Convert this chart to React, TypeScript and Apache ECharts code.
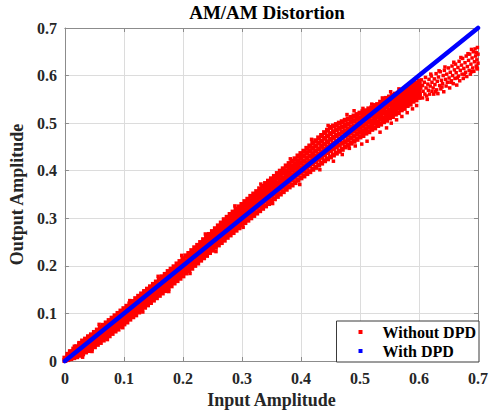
import React, { useEffect, useRef } from "react";
import * as echarts from "echarts";

const tickValues = [0, 0.1, 0.2, 0.3, 0.4, 0.5, 0.6, 0.7];
const tickLabels = ["0", "0.1", "0.2", "0.3", "0.4", "0.5", "0.6", "0.7"];

// Without DPD — dense band, columns: [x, y1, y2, ...]
const redColsLow: number[][] = [
  [0.000, 0.001, 0.006],
  [0.005, 0.003, 0.009, 0.014],
  [0.010, 0.005, 0.012, 0.019],
  [0.015, 0.007, 0.014, 0.020, 0.025],
  [0.020, 0.009, 0.016, 0.023, 0.030],
  [0.025, 0.012, 0.019, 0.026, 0.034, 0.037],
  [0.030, 0.015, 0.022, 0.029, 0.036, 0.042],
  [0.035, 0.019, 0.026, 0.033, 0.040, 0.046],
  [0.040, 0.022, 0.030, 0.037, 0.044, 0.051],
  [0.045, 0.026, 0.034, 0.041, 0.048, 0.055],
  [0.050, 0.030, 0.038, 0.045, 0.053, 0.060],
  [0.055, 0.035, 0.042, 0.050, 0.058, 0.065],
  [0.060, 0.039, 0.047, 0.055, 0.063, 0.070],
  [0.065, 0.044, 0.052, 0.060, 0.068, 0.075],
  [0.070, 0.048, 0.056, 0.064, 0.072, 0.080],
  [0.075, 0.053, 0.061, 0.069, 0.077, 0.085],
  [0.080, 0.058, 0.066, 0.074, 0.082, 0.090],
  [0.085, 0.063, 0.071, 0.079, 0.087, 0.095],
  [0.090, 0.067, 0.075, 0.084, 0.092, 0.100],
  [0.095, 0.073, 0.081, 0.089, 0.097, 0.105],
  [0.100, 0.078, 0.086, 0.094, 0.102, 0.110],
  [0.105, 0.082, 0.091, 0.099, 0.107, 0.115],
  [0.110, 0.088, 0.096, 0.104, 0.112, 0.120],
  [0.115, 0.093, 0.101, 0.109, 0.117, 0.125],
  [0.120, 0.097, 0.106, 0.114, 0.122, 0.131],
  [0.125, 0.103, 0.111, 0.119, 0.127, 0.136],
  [0.130, 0.108, 0.116, 0.124, 0.132, 0.141],
  [0.135, 0.113, 0.121, 0.129, 0.137, 0.146],
  [0.140, 0.118, 0.126, 0.134, 0.142, 0.151],
  [0.145, 0.123, 0.131, 0.139, 0.147, 0.156],
  [0.150, 0.128, 0.136, 0.144, 0.152, 0.161],
  [0.155, 0.133, 0.141, 0.149, 0.157, 0.166],
  [0.160, 0.138, 0.146, 0.154, 0.162, 0.172],
  [0.165, 0.143, 0.151, 0.159, 0.167, 0.177],
  [0.170, 0.148, 0.156, 0.164, 0.173, 0.182],
  [0.175, 0.153, 0.161, 0.169, 0.178, 0.188],
  [0.180, 0.158, 0.166, 0.175, 0.184, 0.193],
  [0.185, 0.164, 0.172, 0.180, 0.189, 0.198],
  [0.190, 0.169, 0.177, 0.186, 0.195, 0.204],
  [0.195, 0.174, 0.182, 0.191, 0.200, 0.209],
  [0.200, 0.179, 0.188, 0.197, 0.206, 0.215],
  [0.205, 0.185, 0.193, 0.202, 0.211, 0.221],
  [0.210, 0.190, 0.198, 0.207, 0.217, 0.226],
  [0.215, 0.195, 0.204, 0.213, 0.222, 0.232],
  [0.220, 0.201, 0.209, 0.219, 0.228, 0.238],
  [0.225, 0.206, 0.215, 0.224, 0.234, 0.243],
  [0.230, 0.212, 0.221, 0.230, 0.239, 0.249],
  [0.235, 0.217, 0.226, 0.235, 0.245, 0.255],
  [0.240, 0.222, 0.231, 0.239, 0.247, 0.254, 0.261],
  [0.245, 0.228, 0.236, 0.244, 0.252, 0.259, 0.266],
  [0.250, 0.233, 0.242, 0.250, 0.258, 0.265, 0.272],
];

const redColsMid: number[][] = [
  [0.255, 0.239, 0.247, 0.255, 0.263, 0.271, 0.278],
  [0.260, 0.244, 0.252, 0.261, 0.269, 0.277, 0.284],
  [0.265, 0.249, 0.258, 0.267, 0.275, 0.283, 0.290],
  [0.270, 0.254, 0.263, 0.272, 0.280, 0.289, 0.297],
  [0.275, 0.260, 0.269, 0.278, 0.286, 0.294, 0.302],
  [0.280, 0.265, 0.274, 0.283, 0.291, 0.300, 0.308],
  [0.285, 0.270, 0.279, 0.288, 0.296, 0.305, 0.313],
  [0.290, 0.275, 0.284, 0.293, 0.302, 0.310, 0.319],
  [0.295, 0.280, 0.289, 0.298, 0.307, 0.315, 0.324],
  [0.300, 0.286, 0.295, 0.304, 0.312, 0.321, 0.329],
  [0.305, 0.291, 0.300, 0.310, 0.318, 0.327, 0.335],
  [0.310, 0.296, 0.305, 0.315, 0.323, 0.332, 0.340],
  [0.315, 0.301, 0.310, 0.320, 0.328, 0.337, 0.346],
  [0.320, 0.306, 0.316, 0.325, 0.334, 0.342, 0.351],
  [0.325, 0.311, 0.321, 0.330, 0.339, 0.348, 0.356],
  [0.330, 0.316, 0.326, 0.335, 0.344, 0.353, 0.362],
  [0.335, 0.321, 0.331, 0.340, 0.349, 0.358, 0.367],
  [0.340, 0.326, 0.336, 0.346, 0.355, 0.364, 0.373],
  [0.345, 0.331, 0.341, 0.351, 0.360, 0.369, 0.378],
  [0.350, 0.336, 0.346, 0.356, 0.365, 0.374, 0.383],
  [0.355, 0.341, 0.351, 0.361, 0.370, 0.379, 0.388],
  [0.360, 0.346, 0.356, 0.366, 0.375, 0.385, 0.394],
  [0.365, 0.351, 0.361, 0.371, 0.380, 0.390, 0.399],
  [0.370, 0.356, 0.366, 0.376, 0.385, 0.395, 0.404],
  [0.375, 0.361, 0.371, 0.381, 0.390, 0.400, 0.410],
  [0.380, 0.366, 0.376, 0.386, 0.396, 0.405, 0.415],
  [0.385, 0.370, 0.381, 0.391, 0.401, 0.410, 0.420],
  [0.390, 0.375, 0.386, 0.396, 0.406, 0.415, 0.425],
  [0.395, 0.380, 0.391, 0.401, 0.411, 0.421, 0.431],
  [0.400, 0.385, 0.396, 0.406, 0.416, 0.426, 0.436],
  [0.405, 0.389, 0.400, 0.410, 0.420, 0.431, 0.441],
  [0.410, 0.394, 0.405, 0.416, 0.426, 0.437, 0.447],
  [0.415, 0.398, 0.410, 0.420, 0.431, 0.442, 0.452],
  [0.420, 0.403, 0.415, 0.426, 0.436, 0.447, 0.458],
  [0.425, 0.407, 0.419, 0.430, 0.441, 0.452, 0.463],
  [0.430, 0.412, 0.424, 0.435, 0.446, 0.458, 0.469],
  [0.435, 0.416, 0.428, 0.440, 0.451, 0.462, 0.474],
  [0.440, 0.421, 0.433, 0.445, 0.456, 0.468, 0.480],
  [0.445, 0.425, 0.438, 0.450, 0.461, 0.473, 0.485],
  [0.450, 0.429, 0.442, 0.454, 0.466, 0.478, 0.491],
  [0.455, 0.433, 0.446, 0.458, 0.470, 0.482, 0.494],
  [0.460, 0.437, 0.450, 0.462, 0.474, 0.486, 0.497],
  [0.465, 0.441, 0.454, 0.466, 0.477, 0.489, 0.500],
  [0.470, 0.445, 0.458, 0.469, 0.481, 0.492, 0.503],
  [0.475, 0.450, 0.461, 0.473, 0.484, 0.495, 0.506],
  [0.480, 0.454, 0.465, 0.476, 0.487, 0.498, 0.509],
  [0.485, 0.458, 0.469, 0.480, 0.491, 0.502, 0.512],
  [0.490, 0.462, 0.473, 0.484, 0.494, 0.505, 0.515],
  [0.495, 0.466, 0.477, 0.487, 0.498, 0.508, 0.518],
  [0.500, 0.471, 0.481, 0.491, 0.501, 0.511, 0.521],
];

const redColsHigh: number[][] = [
  [0.505, 0.474, 0.484, 0.494, 0.504, 0.514, 0.524],
  [0.510, 0.479, 0.488, 0.498, 0.508, 0.518, 0.526],
  [0.515, 0.482, 0.492, 0.502, 0.511, 0.521, 0.530],
  [0.520, 0.487, 0.496, 0.505, 0.515, 0.524, 0.532],
  [0.525, 0.490, 0.500, 0.509, 0.518, 0.528, 0.537],
  [0.530, 0.495, 0.503, 0.513, 0.522, 0.531, 0.539],
  [0.535, 0.498, 0.508, 0.517, 0.526, 0.535, 0.544],
  [0.540, 0.503, 0.511, 0.521, 0.530, 0.539, 0.547],
  [0.545, 0.506, 0.516, 0.524, 0.534, 0.543, 0.552],
  [0.550, 0.511, 0.519, 0.528, 0.538, 0.547, 0.555],
  [0.555, 0.514, 0.524, 0.532, 0.541, 0.550, 0.558],
  [0.560, 0.519, 0.527, 0.536, 0.545, 0.553, 0.561],
  [0.565, 0.522, 0.532, 0.540, 0.548, 0.556, 0.563],
  [0.570, 0.528, 0.535, 0.543, 0.551, 0.559, 0.567],
  [0.575, 0.531, 0.540, 0.547, 0.555, 0.562, 0.569],
  [0.580, 0.537, 0.544, 0.551, 0.559, 0.566, 0.574],
  [0.585, 0.540, 0.549, 0.555, 0.562, 0.570, 0.576],
  [0.590, 0.546, 0.552, 0.559, 0.566, 0.574, 0.581],
  [0.595, 0.549, 0.557, 0.564, 0.571, 0.578, 0.584],
  [0.600, 0.554, 0.561, 0.568, 0.575, 0.582, 0.588],
];

// Without DPD — scattered points [x, y]
const redScatter: number[][] = [
  [0.008, 0.021], [0.016, 0.031], [0.030, 0.008], [0.046, 0.020], [0.058, 0.077],
  [0.072, 0.045], [0.098, 0.070], [0.110, 0.127], [0.132, 0.103], [0.158, 0.178],
  [0.176, 0.146], [0.198, 0.222], [0.212, 0.184], [0.238, 0.267], [0.256, 0.230],
  [0.288, 0.326], [0.302, 0.281], [0.332, 0.372], [0.352, 0.331], [0.382, 0.425],
  [0.398, 0.371], [0.418, 0.466], [0.432, 0.402], [0.446, 0.495], [0.455, 0.420],
  [0.470, 0.434], [0.482, 0.447], [0.492, 0.452], [0.503, 0.456], [0.512, 0.462],
  [0.522, 0.468], [0.534, 0.481], [0.545, 0.490], [0.553, 0.500], [0.562, 0.507],
  [0.571, 0.514], [0.580, 0.522], [0.589, 0.530], [0.596, 0.537], [0.478, 0.518],
  [0.490, 0.526], [0.505, 0.531], [0.520, 0.540], [0.538, 0.553], [0.552, 0.566],
  [0.566, 0.572],
  [0.601, 0.583], [0.602, 0.560], [0.603, 0.574], [0.604, 0.591], [0.606, 0.553],
  [0.606, 0.579], [0.607, 0.567], [0.609, 0.586], [0.610, 0.561], [0.611, 0.596],
  [0.612, 0.574], [0.613, 0.557], [0.615, 0.582], [0.616, 0.569], [0.617, 0.592],
  [0.618, 0.561], [0.619, 0.578], [0.621, 0.599], [0.622, 0.567], [0.622, 0.586],
  [0.624, 0.574], [0.625, 0.561], [0.626, 0.593], [0.627, 0.581], [0.629, 0.604],
  [0.630, 0.570], [0.631, 0.588], [0.632, 0.562], [0.633, 0.597], [0.635, 0.579],
  [0.636, 0.608], [0.637, 0.572], [0.638, 0.590], [0.640, 0.583], [0.641, 0.600],
  [0.642, 0.566], [0.643, 0.611], [0.645, 0.592], [0.646, 0.578], [0.647, 0.603],
  [0.648, 0.586], [0.650, 0.616], [0.651, 0.595], [0.652, 0.574], [0.653, 0.607],
  [0.655, 0.589], [0.656, 0.620], [0.657, 0.600], [0.658, 0.583], [0.660, 0.612],
  [0.661, 0.594], [0.662, 0.624], [0.663, 0.606], [0.664, 0.580], [0.666, 0.617],
  [0.667, 0.599], [0.668, 0.630], [0.669, 0.589], [0.670, 0.611], [0.672, 0.622],
  [0.673, 0.603], [0.674, 0.636], [0.675, 0.594], [0.676, 0.615], [0.678, 0.627],
  [0.679, 0.607], [0.680, 0.641], [0.681, 0.598], [0.682, 0.619], [0.684, 0.632],
  [0.685, 0.611], [0.686, 0.645], [0.687, 0.603], [0.688, 0.624], [0.690, 0.637],
  [0.691, 0.616], [0.692, 0.650], [0.693, 0.609], [0.694, 0.629], [0.695, 0.656],
  [0.696, 0.641], [0.697, 0.620], [0.698, 0.633], [0.699, 0.659], [0.700, 0.645],
  [0.700, 0.626], [0.699, 0.614], [0.697, 0.648], [0.689, 0.655], [0.683, 0.646],
  [0.671, 0.638], [0.659, 0.628], [0.644, 0.618], [0.634, 0.610], [0.620, 0.603],
  [0.614, 0.550], [0.628, 0.566], [0.639, 0.576], [0.654, 0.586], [0.665, 0.595],
  [0.677, 0.602], [0.689, 0.608], [0.698, 0.616],
];

// With DPD
const blueX = [0, 0.1, 0.2, 0.3, 0.4, 0.5, 0.6, 0.7];
const blueY = [0, 0.1, 0.2, 0.3, 0.4, 0.5, 0.6, 0.7];

const FONT = "Liberation Serif, Times New Roman, serif";
const AXIS_GRAY = "#8c8c8c";

export default function App() {
  const ref = useRef<HTMLDivElement>(null);
  useEffect(() => {
    if (!ref.current) return;
    const chart = echarts.init(ref.current, undefined, { renderer: "svg" });
    const coreData = [...redColsLow, ...redColsMid, ...redColsHigh].flatMap(
      ([x, ...ys]) => ys.map((y) => [x, y])
    );
    const blueData = blueX.map((x, i) => [x, blueY[i]]);
    const fmt = (v: number) => {
      const i = tickValues.findIndex((t) => Math.abs(t - v) < 1e-9);
      return i >= 0 ? tickLabels[i] : "";
    };
    const labelStyle = {
      fontFamily: FONT,
      fontWeight: "bold" as const,
      fontSize: 16,
      color: "#262626",
    };
    const baseAxis = {
      type: "value" as const,
      min: 0,
      max: 0.7,
      interval: 0.1,
      axisLine: { show: true, onZero: false, lineStyle: { color: AXIS_GRAY, width: 1 } },
      axisTick: { show: true, inside: true, length: 4, lineStyle: { color: AXIS_GRAY } },
    };
    chart.setOption({
      animation: false,
      backgroundColor: "#ffffff",
      title: {
        text: "AM/AM Distortion",
        left: 267,
        top: 3,
        textAlign: "center",
        padding: 0,
        textStyle: { fontFamily: FONT, fontWeight: "bold", fontSize: 19, color: "#000" },
      },
      grid: { left: 54, top: 28, width: 425, height: 333 },
      legend: {
        orient: "vertical",
        right: 12,
        bottom: 53,
        backgroundColor: "#ffffff",
        borderColor: "#3a3a3a",
        borderWidth: 1,
        borderRadius: 0,
        padding: [2.5, 3, 2.5, 22],
        itemGap: 2,
        itemWidth: 4,
        itemHeight: 4,
        data: [
          { name: "Without DPD", icon: "rect" },
          { name: "With DPD", icon: "rect" },
        ],
        textStyle: {
          fontFamily: FONT,
          fontWeight: "bold",
          fontSize: 16,
          color: "#000",
          lineHeight: 17,
          padding: [0, 0, 0, 15],
        },
      },
      xAxis: [
        {
          ...baseAxis,
          position: "bottom",
          name: "Input Amplitude",
          nameLocation: "middle",
          nameGap: 30,
          nameTextStyle: { fontFamily: FONT, fontWeight: "bold", fontSize: 18, color: "#262626" },
          axisLabel: { ...labelStyle, margin: 9, formatter: fmt },
          splitLine: { show: true, lineStyle: { color: "#dcdcdc", width: 1 } },
        },
        {
          ...baseAxis,
          position: "top",
          axisLabel: { show: false },
          splitLine: { show: false },
        },
      ],
      yAxis: [
        {
          ...baseAxis,
          position: "left",
          name: "Output Amplitude",
          nameLocation: "middle",
          nameGap: 32,
          nameTextStyle: { fontFamily: FONT, fontWeight: "bold", fontSize: 18, color: "#262626" },
          axisLabel: { ...labelStyle, margin: 8, formatter: fmt },
          splitLine: { show: true, lineStyle: { color: "#dcdcdc", width: 1 } },
        },
        {
          ...baseAxis,
          position: "right",
          axisLabel: { show: false },
          splitLine: { show: false },
        },
      ],
      series: [
        {
          name: "Without DPD",
          type: "scatter",
          symbol: "rect",
          symbolSize: 5,
          itemStyle: { color: "#ff0000", opacity: 1 },
          data: coreData,
          clip: true,
        },
        {
          name: "Without DPD",
          type: "scatter",
          symbol: "rect",
          symbolSize: 3.5,
          itemStyle: { color: "#ff0000", opacity: 1 },
          data: redScatter,
          clip: true,
        },
        {
          name: "With DPD",
          type: "line",
          symbol: "none",
          color: "#0000ff",
          itemStyle: { color: "#0000ff" },
          lineStyle: { color: "#0000ff", width: 4.5, cap: "round" },
          data: blueData,
          clip: false,
        },
      ],
    });
    return () => chart.dispose();
  }, []);
  return <div ref={ref} style={{ width: 491, height: 415, position: "absolute", left: 0, top: 0 }} />;
}
